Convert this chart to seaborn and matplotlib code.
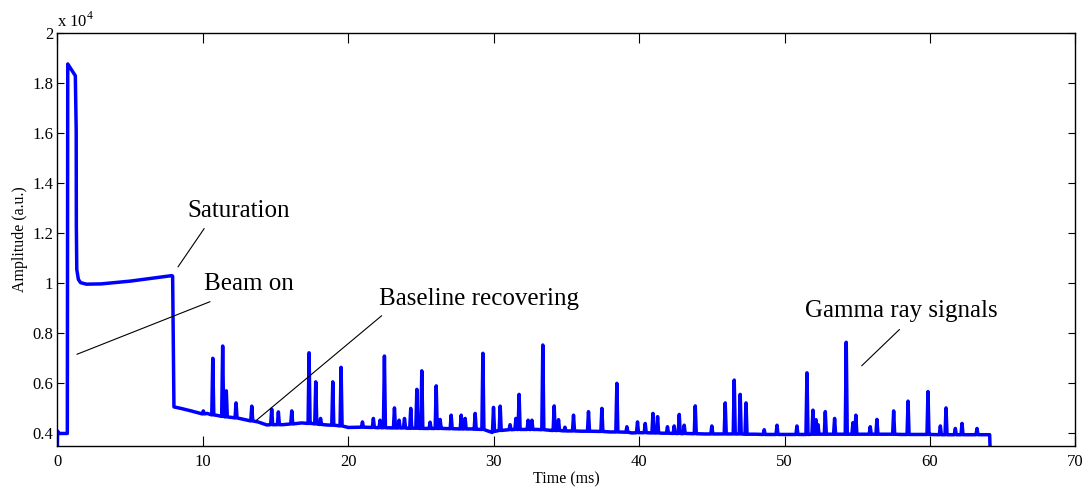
import numpy as np
import pandas as pd
import matplotlib
matplotlib.use("Agg")
import matplotlib.pyplot as plt
import seaborn as sns

# ---- data ----
# main trace knots (time in ms, amplitude in a.u.)
base_t = [0.0, 0.02, 0.1, 0.69, 0.72, 1.24, 1.30, 1.31, 1.34, 1.45, 1.60, 2.0, 3.0, 5.0, 7.87, 7.93, 8.02,
          8.5, 9.2, 10.3, 11.0, 12.0, 13.0, 13.8, 14.4, 15.5, 16.8, 17.5, 18.5, 19.2, 20.0, 20.8, 22.0,
          24.0, 26.5, 28.5, 29.5, 29.9, 30.3, 31.0, 32.0, 33.0, 34.0, 35.2, 36.0, 38.0, 39.5, 41.6,
          43.0, 44.5, 48.0, 49.0, 51.0, 53.0, 56.0, 58.0, 60.0, 62.0, 64.10, 64.15]
base_a = [3000, 4100, 4000, 4000, 18750, 18280, 16100, 12300, 10550, 10150, 10020, 9960, 9970, 10080, 10300, 10280, 5060,
          5000, 4900, 4800, 4720, 4640, 4540, 4460, 4340, 4350, 4420, 4400, 4340, 4320, 4240, 4250, 4230,
          4210, 4200, 4180, 4120, 4040, 4110, 4150, 4160, 4160, 4120, 4100, 4090, 4060, 4020, 4010,
          3990, 3980, 3970, 3960, 3960, 3970, 3970, 3960, 3960, 3950, 3950, 3000]

# gamma ray pulses: time, peak amplitude, local baseline
spike_t = [10.04, 10.69, 11.37, 11.62, 12.29, 13.37, 14.74, 15.20, 16.12, 17.31, 17.77, 18.10, 18.94, 19.51,
           20.98, 21.73, 22.19, 22.49, 23.18, 23.50, 23.87, 24.30, 24.72, 25.06, 25.63, 26.05, 26.32,
           27.08, 27.77, 28.04, 28.73, 29.26, 29.99, 30.45, 31.13, 31.53, 31.75, 32.37, 32.63, 33.38,
           34.16, 34.46, 34.90, 35.49, 36.52, 37.44, 38.47, 39.16, 39.89, 40.42, 40.95, 41.27, 41.95,
           42.41, 42.76, 43.10, 43.86, 45.00, 45.92, 46.54, 46.95, 47.35, 48.60, 49.48, 50.85, 51.54,
           51.95, 52.16, 52.30, 52.80, 53.44, 54.24, 54.70, 54.90, 55.89, 56.35, 57.50, 58.49, 59.86,
           60.71, 61.10, 61.74, 62.20, 63.23]
spike_peak = [4900, 7000, 7490, 5700, 5220, 5090, 4970, 4860, 4900, 7220, 6060, 4600, 6060, 6640,
              4460, 4600, 4530, 7090, 5020, 4530, 4600, 5000, 5760, 6500, 4450, 5900, 4560,
              4730, 4730, 4600, 4800, 7200, 5040, 5090, 4350, 4600, 5560, 4530, 4530, 7530,
              5100, 4550, 4250, 4730, 4870, 5000, 6000, 4270, 4460, 4400, 4800, 4670, 4270,
              4300, 4760, 4330, 5100, 4300, 5220, 6130, 5560, 5220, 4150, 4330, 4300, 6420,
              4930, 4550, 4350, 4870, 4600, 7640, 4430, 4730, 4270, 4560, 4900, 5290, 5670,
              4300, 5020, 4200, 4400, 4200]
spike_base = [4780, 4740, 4680, 4660, 4620, 4500, 4350, 4350, 4380, 4400, 4380, 4360, 4330, 4300,
              4250, 4240, 4230, 4230, 4220, 4220, 4220, 4210, 4210, 4200, 4200, 4200, 4200,
              4190, 4180, 4180, 4170, 4160, 4080, 4120, 4150, 4160, 4160, 4160, 4160, 4150,
              4120, 4120, 4100, 4100, 4090, 4080, 4060, 4050, 4030, 4030, 4020, 4020, 4010,
              4000, 4000, 4000, 3990, 3980, 3980, 3980, 3980, 3970, 3960, 3960, 3960, 3960,
              3970, 3970, 3970, 3970, 3970, 3970, 3970, 3970, 3970, 3970, 3970, 3960, 3960,
              3950, 3950, 3950, 3950, 3950]

x_ticks = [0, 10, 20, 30, 40, 50, 60, 70]
y_ticks = [4000, 6000, 8000, 10000, 12000, 14000, 16000, 18000, 20000]
y_ticklabels = ["0.4", "0.6", "0.8", "1", "1.2", "1.4", "1.6", "1.8", "2"]

# annotations: label, text position (t, amp), leader line from (t, amp) to (t, amp)
ann_labels = ["Saturation", "Beam on", "Baseline recovering", "Gamma ray signals"]
ann_text_xy = [(12.45, 12900), (13.2, 9950), (29.0, 9350), (58.0, 8900)]
ann_line_from = [(10.1, 12180), (10.5, 9260), (22.3, 8700), (57.9, 8150)]
ann_line_to = [(8.3, 10650), (1.35, 7160), (13.7, 4530), (55.3, 6700)]

# ---- build the trace vertex list ----
w = 0.07
pts = [(t, a) for t, a in zip(base_t, base_a)]
for t, p, b in zip(spike_t, spike_peak, spike_base):
    pts += [(t - w, b), (t, p), (t + w, b)]
pts.sort(key=lambda r: r[0])
df = pd.DataFrame(pts, columns=["Time", "Amplitude"])

# ---- styling ----
sns.set_style("ticks")
plt.rcParams["font.family"] = ["Liberation Serif", "DejaVu Serif"]
plt.rcParams["mathtext.fontset"] = "custom"
plt.rcParams["mathtext.rm"] = "Liberation Serif"
plt.rcParams["text.color"] = "black"
plt.rcParams["axes.labelcolor"] = "black"
plt.rcParams["xtick.color"] = "black"
plt.rcParams["ytick.color"] = "black"

fig = plt.figure(figsize=(10.87, 4.88), dpi=100)
ax = fig.add_axes([0.0527, 0.0861, 0.9367, 0.847])

sns.lineplot(data=df, x="Time", y="Amplitude", sort=False, estimator=None,
             color="#0000ff", linewidth=2.5, ax=ax)

ax.set_xlim(0, 70)
ax.set_ylim(3500, 20000)
ax.set_xticks(x_ticks)
ax.set_xticklabels([str(v) for v in x_ticks])
ax.set_yticks(y_ticks)
ax.set_yticklabels(y_ticklabels)
for s in ax.spines.values():
    s.set_visible(True)
    s.set_linewidth(1.0)
    s.set_color("black")
ax.tick_params(axis="x", direction="in", top=True, bottom=True, length=7.5, width=0.8,
               labelsize=12, pad=6, colors="black")
ax.tick_params(axis="y", direction="in", left=True, right=True, length=5, width=0.8,
               labelsize=12, pad=3, colors="black")
ax.set_xlabel("Time (ms)", fontsize=11.5, labelpad=1, color="black")
ax.set_ylabel("Amplitude (a.u.)", fontsize=11.5, labelpad=3, color="black")
ax.grid(False)

ax.text(0.0, 1.004, r"x 10$^{4}$", transform=ax.transAxes, ha="left", va="bottom",
        fontsize=12, color="black")

for lab, txy, p0, p1 in zip(ann_labels, ann_text_xy, ann_line_from, ann_line_to):
    ax.text(txy[0], txy[1], lab, ha="center", va="center", fontsize=18, color="black")
    ax.plot([p0[0], p1[0]], [p0[1], p1[1]], color="black", linewidth=0.8)

fig.savefig("out.png", dpi=100)
